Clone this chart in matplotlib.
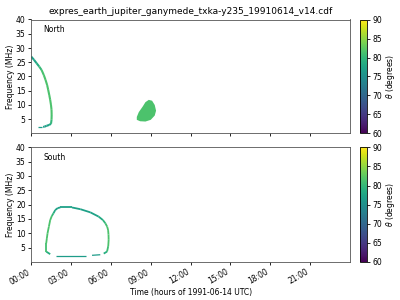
import numpy as np
import matplotlib
matplotlib.use("Agg")
import matplotlib.pyplot as plt
from matplotlib.collections import LineCollection
from matplotlib.colors import Normalize
from matplotlib.ticker import FuncFormatter

title = "expres_earth_jupiter_ganymede_txka-y235_19910614_v14.cdf"
xlabel = "Time (hours of 1991-06-14 UTC)"
ylabel = "Frequency (MHz)"
cbar_label = r"$\theta$ (degrees)"
hemispheres = ["North", "South"]
theta_ticks = [60, 65, 70, 75, 80, 85, 90]
time_ticks = [0, 3, 6, 9, 12, 15, 18, 21]
freq_ticks = [5, 10, 15, 20, 25, 30, 35, 40]

# North arc (hours, MHz, theta deg)
n_arc_t = [0.0, 0.2, 0.4, 0.6, 0.78, 0.95, 1.08, 1.2, 1.28, 1.36, 1.43, 1.49, 1.53, 1.54, 1.53, 1.49, 1.35, 1.16, 1.0, 0.9]
n_arc_f = [27.0, 25.9, 24.7, 23.5, 22.3, 20.5, 18.8, 17.0, 15.3, 13.5, 11.8, 10.0, 8.3, 6.5, 4.8, 3.4, 3.0, 2.7, 2.4, 2.3]
n_arc_th = [77.0, 77.3, 77.8, 79.5, 81.0, 81.5, 81.5, 81.5, 81.5, 81.5, 81.5, 81.5, 81.5, 81.5, 81.0, 79.0, 77.5, 77.0, 76.5, 76.5]
n_tail_t = [0.52, 0.78]
n_tail_f = [2.2, 2.2]
n_tail_th = [76.5, 76.5]

# North blob outline (hours, MHz) and theta
n_blob_t = [8.85, 9.1, 9.3, 9.4, 9.3, 9.0, 8.6, 8.2, 7.95, 7.95, 8.1, 8.4, 8.6]
n_blob_f = [11.8, 11.5, 10.0, 8.0, 6.3, 4.8, 4.2, 4.3, 4.8, 5.8, 7.5, 9.5, 11.0]
n_blob_th = 81.5

# South loop (hours, MHz, theta deg)
s_loop_t = [1.43, 1.13, 1.13, 1.18, 1.23, 1.33, 1.43, 1.55, 1.68, 1.81, 2.0, 2.19, 2.6, 3.07, 3.7, 4.45, 5.08, 5.4, 5.58, 5.72, 5.79, 5.82, 5.83, 5.8, 5.71, 5.46]
s_loop_f = [2.7, 3.6, 6.5, 8.3, 10.0, 12.3, 14.6, 16.0, 17.0, 18.1, 18.8, 19.0, 19.0, 19.0, 18.4, 17.3, 15.8, 14.6, 13.5, 12.3, 11.1, 9.5, 7.7, 5.5, 3.6, 2.9]
s_loop_th = [77.0, 80.5, 81.5, 81.5, 81.5, 81.5, 81.5, 81.0, 79.0, 77.5, 77.0, 77.0, 77.0, 77.0, 77.0, 77.0, 77.5, 79.0, 80.5, 81.5, 81.5, 81.5, 81.5, 81.5, 80.0, 77.5]
s_bot1_t = [1.89, 4.15]
s_bot1_f = [2.1, 2.1]
s_bot2_t = [4.58, 5.2]
s_bot2_f = [2.3, 2.5]
s_bot_th = [76.5, 76.5]

cmap = plt.get_cmap("viridis")
norm = Normalize(vmin=60, vmax=90)


def add_curve(ax, t, f, th, lw=1.5):
    pts = np.column_stack([t, f])
    segs = np.stack([pts[:-1], pts[1:]], axis=1)
    th = np.asarray(th, dtype=float)
    vals = 0.5 * (th[:-1] + th[1:])
    lc = LineCollection(segs, cmap=cmap, norm=norm, linewidths=lw, capstyle="butt")
    lc.set_array(vals)
    ax.add_collection(lc)
    return lc


fig = plt.figure(figsize=(4, 3), dpi=100)
ax1 = fig.add_axes([0.078, 0.555, 0.797, 0.38])
ax2 = fig.add_axes([0.078, 0.127, 0.797, 0.382])
cax1 = fig.add_axes([0.9, 0.555, 0.018, 0.38])
cax2 = fig.add_axes([0.9, 0.127, 0.018, 0.382])

add_curve(ax1, n_arc_t, n_arc_f, n_arc_th, lw=1.5)
add_curve(ax1, n_tail_t, n_tail_f, n_tail_th, lw=0.9)
ax1.fill(n_blob_t, n_blob_f, color=cmap(norm(n_blob_th)), lw=0)

add_curve(ax2, s_loop_t, s_loop_f, s_loop_th, lw=1.3)
add_curve(ax2, s_bot1_t, s_bot1_f, s_bot_th, lw=0.9)
add_curve(ax2, s_bot2_t, s_bot2_f, s_bot_th, lw=0.9)

fmt = FuncFormatter(lambda v, p: f"{int(v):02d}:00")
for ax, name in zip([ax1, ax2], hemispheres):
    ax.set_xlim(0, 24)
    ax.set_ylim(0, 40)
    ax.set_xticks(time_ticks)
    ax.set_yticks(freq_ticks)
    ax.xaxis.set_major_formatter(fmt)
    ax.tick_params(labelsize=5.5, length=2.5, width=0.6, pad=1.5)
    ax.set_ylabel(ylabel, fontsize=5.5, labelpad=1)
    ax.text(0.038, 0.91, name, transform=ax.transAxes, fontsize=5.5, va="center")
    for s in ax.spines.values():
        s.set_linewidth(0.6)
        s.set_color("#555555")

ax1.tick_params(labelbottom=False)
for lab in ax2.get_xticklabels():
    lab.set_rotation(30)
    lab.set_ha("right")
ax2.set_xlabel(xlabel, fontsize=5.5, labelpad=1)
ax1.set_title(title, fontsize=6.5, pad=4)

for cax in [cax1, cax2]:
    sm = plt.cm.ScalarMappable(norm=norm, cmap=cmap)
    cb = fig.colorbar(sm, cax=cax)
    cb.set_ticks(theta_ticks)
    cb.ax.tick_params(labelsize=5.5, length=2.5, width=0.6, pad=1.5)
    cb.set_label(cbar_label, fontsize=5.5, labelpad=1)
    cb.outline.set_linewidth(0.6)

fig.savefig("out.png", dpi=100)
